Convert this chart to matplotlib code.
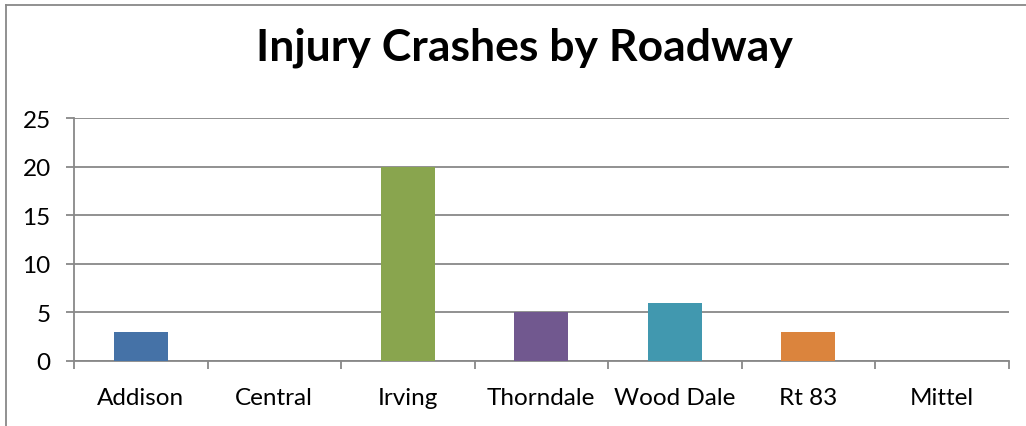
import matplotlib
matplotlib.use("Agg")
import matplotlib.pyplot as plt
from matplotlib.lines import Line2D
import numpy as np

categories = ["Addison", "Central", "Irving", "Thorndale", "Wood Dale", "Rt 83", "Mittel"]
values = [3, 0, 20, 5, 6, 3, 0]
colors = ["#4572A7", "#AA4643", "#89A54E", "#71588F", "#4198AF", "#DB843D", "#93A9CF"]
yticks = [0, 5, 10, 15, 20, 25]
title = "Injury Crashes by Roadway"

plt.rcParams['font.family'] = ['Lato', 'DejaVu Sans']

W, H = 1026, 427
fig = plt.figure(figsize=(W / 100, H / 100), dpi=100)
ax = fig.add_axes([74 / W, 1 - 362 / H, (1008.5 - 74) / W, (362 - 119) / H])

x = np.arange(len(categories))
ax.bar(x, values, width=0.405, color=colors, zorder=3)

ax.set_xlim(-0.5, len(categories) - 0.5)
ax.set_ylim(0, 25)
ax.set_yticks(yticks)
ax.yaxis.grid(True, color="#888888", linewidth=1.3, zorder=0)
ax.set_axisbelow(True)

ax.set_xticks(x)
ax.set_xticklabels(categories, fontsize=17.5, color="#000000")
ax.tick_params(axis='x', length=0, pad=19)
ax.set_xticks(np.arange(-0.5, len(categories)), minor=True)
ax.tick_params(axis='x', which='minor', length=5.8, width=1.3, color="#888888", direction='out')
ax.tick_params(axis='y', length=5.8, width=1.3, color="#888888", labelsize=17.5, pad=11, direction='out')

for s in ["top", "right"]:
    ax.spines[s].set_visible(False)
for s in ["left", "bottom"]:
    ax.spines[s].set_color("#888888")
    ax.spines[s].set_linewidth(1.3)

fig.text(524 / W, 1 - 48 / H, title, ha='center', va='center', fontsize=32, fontweight='bold')

# chart frame (left and top edges visible)
fig.add_artist(Line2D([5.5 / W, 5.5 / W], [0, 1 - 6 / H], transform=fig.transFigure, color="#888888", linewidth=1.3))
fig.add_artist(Line2D([5.5 / W, 1], [1 - 6 / H, 1 - 6 / H], transform=fig.transFigure, color="#888888", linewidth=1.3))

fig.savefig("out.png", dpi=100)
